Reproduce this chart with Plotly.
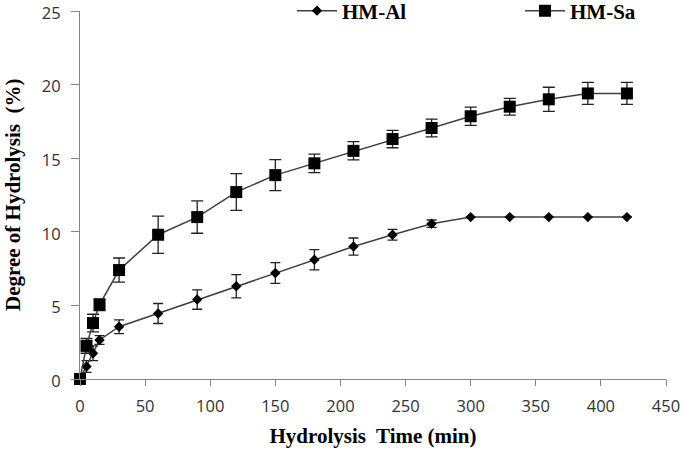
import plotly.graph_objects as go

time = [0, 5, 10, 15, 30, 60, 90, 120, 150, 180, 210, 240, 270, 300, 330, 360, 390, 420]
hm_al = [0, 0.85, 1.75, 2.65, 3.55, 4.45, 5.4, 6.3, 7.2, 8.1, 9.0, 9.8, 10.55, 11.0, 11.0, 11.0, 11.0, 11.0]
hm_al_err = [0, 0.4, 0.5, 0.3, 0.47, 0.68, 0.66, 0.79, 0.7, 0.69, 0.58, 0.37, 0.25, 0, 0, 0, 0, 0]
hm_sa = [0, 2.25, 3.8, 5.05, 7.4, 9.8, 11.0, 12.7, 13.85, 14.65, 15.5, 16.3, 17.05, 17.85, 18.5, 19.0, 19.4, 19.4]
hm_sa_err = [0, 0.5, 0.6, 0.4, 0.82, 1.27, 1.1, 1.25, 1.05, 0.63, 0.62, 0.59, 0.6, 0.62, 0.57, 0.82, 0.75, 0.75]

x_ticks = [0, 50, 100, 150, 200, 250, 300, 350, 400, 450]
y_ticks = [0, 5, 10, 15, 20, 25]

LINE = "#404040"
AXIS = "#868686"
TITLE_FONT = dict(family="Liberation Serif", size=21, color="black")
TICK_FONT = dict(family="Open Sans", size=16.5, color="#333")

fig = go.Figure()
fig.add_trace(go.Scatter(
    x=time, y=hm_al, name="<b>HM-Al</b>", mode="lines+markers",
    line=dict(color=LINE, width=1.5),
    marker=dict(symbol="diamond", size=8, color="black"),
    error_y=dict(type="data", array=hm_al_err, visible=True, color="#222", thickness=1.3, width=5),
    legend="legend", cliponaxis=False,
))
fig.add_trace(go.Scatter(
    x=time, y=hm_sa, name="<b>HM-Sa</b>", mode="lines+markers",
    line=dict(color=LINE, width=1.5),
    marker=dict(symbol="square", size=12, color="black"),
    error_y=dict(type="data", array=hm_sa_err, visible=True, color="#222", thickness=1.3, width=6),
    legend="legend2", cliponaxis=False,
))

fig.update_layout(
    width=685, height=450,
    margin=dict(l=80, r=19, t=11, b=71, autoexpand=False),
    paper_bgcolor="white", plot_bgcolor="white",
    showlegend=True,
    legend=dict(xref="container", yref="container", x=292 / 685, y=1 - 11 / 450,
                xanchor="left", yanchor="middle", itemwidth=40,
                font=TITLE_FONT, bgcolor="rgba(0,0,0,0)"),
    legend2=dict(xref="container", yref="container", x=520 / 685, y=1 - 11 / 450,
                 xanchor="left", yanchor="middle", itemwidth=40,
                 font=TITLE_FONT, bgcolor="rgba(0,0,0,0)"),
    xaxis=dict(
        range=[0, 450], tickvals=x_ticks, ticktext=[str(v) for v in x_ticks],
        showgrid=False, zeroline=False, showline=True, linecolor=AXIS, linewidth=1,
        ticks="outside", ticklen=6, tickcolor=AXIS, automargin=True,
        tickfont=TICK_FONT, ticklabeloverflow="allow", ticklabelstandoff=6,
        title=dict(text="<b>Hydrolysis  Time (min)</b>", font=TITLE_FONT, standoff=12),
    ),
    yaxis=dict(
        range=[0, 25], tickvals=y_ticks, ticktext=[str(v) for v in y_ticks],
        showgrid=False, zeroline=False, showline=True, linecolor=AXIS, linewidth=1,
        ticks="outside", ticklen=8, tickcolor=AXIS, automargin=False,
        tickfont=TICK_FONT, ticklabeloverflow="allow",
        ticklabelstandoff=7, ticklabelshift=2,
    ),
    annotations=[dict(
        text="<b>Degree of Hydrolysis  (%)</b>", font=TITLE_FONT,
        xref="paper", yref="paper", x=(13 - 80) / 586, y=0.5,
        xanchor="center", yanchor="middle", textangle=-90, showarrow=False,
    )],
)

fig.write_html("out.html", config={"displayModeBar": False},
               post_script="document.body.style.margin='0';")
